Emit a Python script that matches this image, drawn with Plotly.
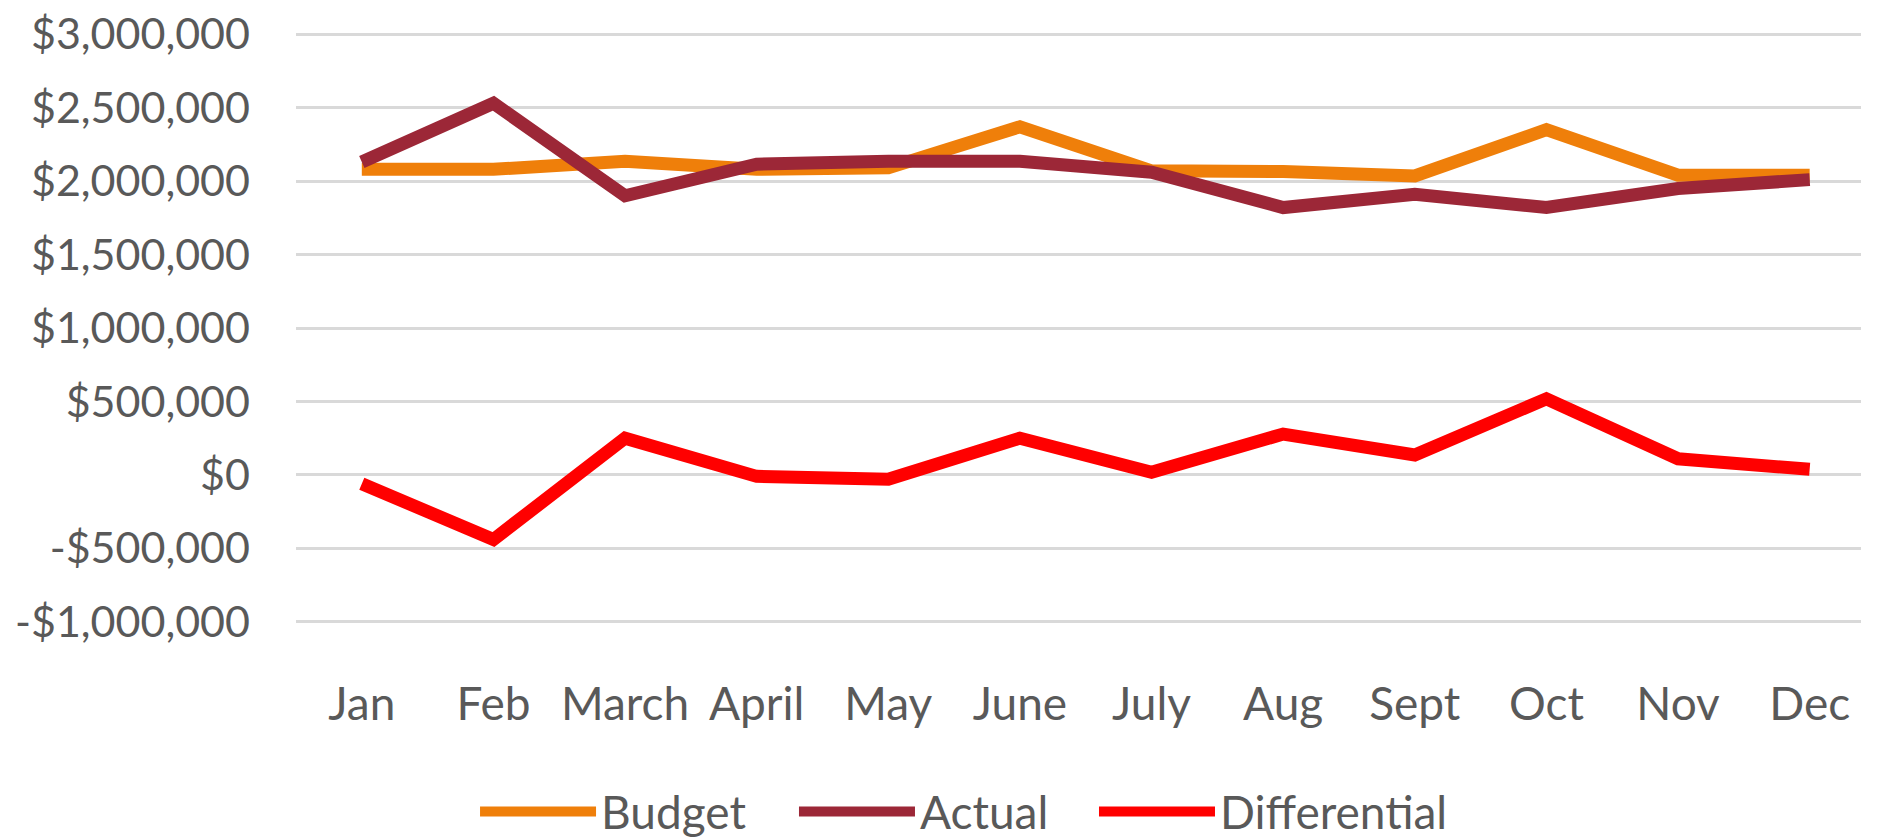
import plotly.graph_objects as go

months = ["Jan", "Feb", "March", "April", "May", "June", "July", "Aug", "Sept", "Oct", "Nov", "Dec"]
budget = [2080000, 2080000, 2135000, 2080000, 2090000, 2370000, 2070000, 2065000, 2035000, 2350000, 2040000, 2040000]
actual = [2130000, 2530000, 1900000, 2115000, 2135000, 2135000, 2060000, 1820000, 1910000, 1820000, 1950000, 2010000]
differential = [-60000, -440000, 250000, -10000, -30000, 250000, 18000, 278000, 136000, 518000, 110000, 38000]

y_tick_vals = [-1000000, -500000, 0, 500000, 1000000, 1500000, 2000000, 2500000, 3000000]
y_tick_text = ["-$1,000,000", "-$500,000", "$0", "$500,000", "$1,000,000", "$1,500,000",
               "$2,000,000", "$2,500,000", "$3,000,000"]

font_family = "Lato, 'Open Sans', sans-serif"
text_color = "#595959"

fig = go.Figure()
series = [("Budget", budget, "#EF7F0A", "legend"),
          ("Actual", actual, "#9C2737", "legend2"),
          ("Differential", differential, "#FF0000", "legend3")]
for name, vals, col, lg in series:
    fig.add_trace(go.Scatter(x=months, y=vals, name=name, mode="lines",
                             line=dict(color=col, width=13), legend=lg))

legend_common = dict(orientation="h", xanchor="left", y=-0.3167, yanchor="middle",
                     font=dict(size=46, color=text_color), itemwidth=116,
                     bgcolor="rgba(0,0,0,0)")

fig.update_layout(
    width=1877, height=831,
    margin=dict(l=288, r=24, t=24, b=215, autoexpand=False),
    paper_bgcolor="white", plot_bgcolor="white",
    font=dict(family=font_family, size=43, color=text_color),
    showlegend=True,
    legend=dict(x=0.1144, **legend_common),
    legend2=dict(x=0.3182, **legend_common),
    legend3=dict(x=0.5099, **legend_common),
    xaxis=dict(type="category", range=[-0.5, 11.39], showgrid=False, zeroline=False,
               showline=False, ticks="", ticklabelstandoff=49, tickfont=dict(size=46),
               automargin=False, ticklabeloverflow="allow"),
    yaxis=dict(range=[-1015000, 3015000], tickvals=y_tick_vals, ticktext=y_tick_text,
               showgrid=True, gridcolor="#D9D9D9", gridwidth=3, zeroline=False,
               showline=False, ticks="", ticklabelstandoff=45, tickfont=dict(size=43),
               automargin=False, ticklabeloverflow="allow"),
)

fig.write_html("out.html")
